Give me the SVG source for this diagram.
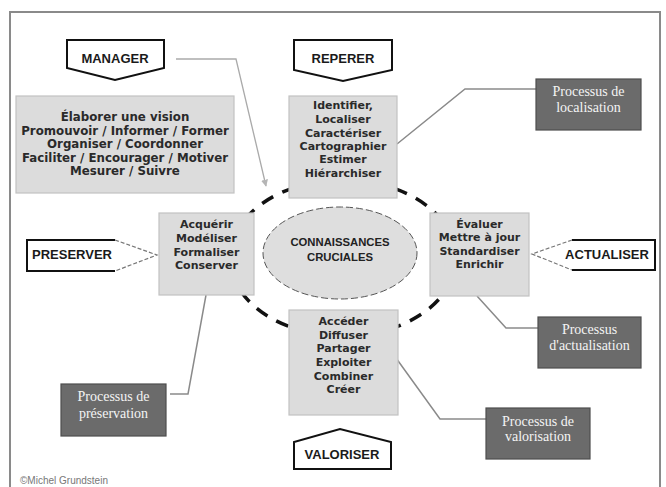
<svg xmlns="http://www.w3.org/2000/svg" width="666" height="487" viewBox="0 0 666 487">
<style>
.bg{fill:#ffffff}
.frame{fill:none;stroke:#8a8a8a;stroke-width:2}
.box{fill:#dcdcdc;stroke:#c2c2c2;stroke-width:1.2}
.btx{font-family:"DejaVu Sans",Verdana,sans-serif;font-weight:bold;font-size:11px;fill:#2a2a2a;text-anchor:middle}
.mtx{font-size:11.8px}
.dark{fill:#6b6b6b;stroke:#4e4e4e;stroke-width:1.2}
.dtx{font-family:"Liberation Serif","Times New Roman",serif;font-size:14px;fill:#f4f4f4;text-anchor:middle}
.lab{fill:#ffffff;stroke:#111;stroke-width:2;stroke-linejoin:miter}
.ltx{font-family:"Liberation Sans",Arial,sans-serif;font-weight:bold;font-size:13px;fill:#1a1a1a;text-anchor:middle}
.conn{fill:none;stroke:#8a8a8a;stroke-width:1.5}
.ring{fill:none;stroke:#111;stroke-width:3.5;stroke-dasharray:13 10}
.core{fill:#dedede;stroke:#555;stroke-width:1;stroke-dasharray:7 3}
.ctx{font-family:"Liberation Sans",Arial,sans-serif;font-weight:bold;font-size:11.3px;fill:#222;text-anchor:middle}
.dash{fill:none;stroke:#777;stroke-width:1.2;stroke-dasharray:4 2}
</style>
<defs>
<marker id="ah" viewBox="0 0 10 10" refX="9" refY="5" markerWidth="7" markerHeight="7" orient="auto" markerUnits="userSpaceOnUse">
<path d="M0,0 L10,5 L0,10 z" fill="#b5b5b5"/>
</marker>
</defs>
<rect class="bg" x="0" y="0" width="666" height="487"/>
<rect class="frame" x="10" y="12" width="650" height="490"/>

<g id="connectors">
<ellipse class="ring" cx="343" cy="258" rx="113" ry="78"/>
<polyline points="176,59 236,59 266,186" fill="none" stroke="#aaaaaa" stroke-width="1.3" marker-end="url(#ah)"/>
<polyline class="conn" points="397,144 465,89 536,89"/>
<polyline class="conn" points="477,296 506,328 538,328"/>
<polyline class="conn" points="396,358 440,419 486,419"/>
<polyline class="conn" points="206,295 188,394 170,394"/>
</g>

<g id="manager-label">
<polygon class="lab" points="67,40 164,40 164,68 115,80 67,68"/>
<text class="ltx" x="115" y="63">MANAGER</text>
</g>
<g id="reperer-label">
<polygon class="lab" points="294,40 392,40 392,70 343,81 294,70"/>
<text class="ltx" x="343" y="63">REPERER</text>
</g>
<g id="valoriser-label">
<polygon class="lab" points="294,469 294,442 340,429 391,442 391,469"/>
<text class="ltx" x="342" y="459">VALORISER</text>
</g>
<g id="preserver-label">
<polygon fill="#ffffff" stroke="none" points="27,240 115,240 157,255 115,271 27,271"/>
<polyline fill="none" stroke="#111" stroke-width="2" points="115,240 27,240 27,271 115,271"/>
<polyline class="dash" points="115,240 157,255 115,271"/>
<text class="ltx" x="72" y="259">PRESERVER</text>
</g>
<g id="actualiser-label">
<polygon fill="#ffffff" stroke="none" points="532,254 572,240 655,240 655,270 572,270"/>
<polyline fill="none" stroke="#111" stroke-width="2" points="572,240 655,240 655,270 572,270"/>
<polyline class="dash" points="572,240 532,254 572,270"/>
<text class="ltx" x="607" y="259">ACTUALISER</text>
</g>

<g id="manager-box">
<rect class="box" x="16" y="96" width="218" height="97"/>
<text class="btx mtx" x="125" y="121">Élaborer une vision</text>
<text class="btx mtx" x="125" y="134.5">Promouvoir / Informer / Former</text>
<text class="btx mtx" x="125" y="148">Organiser / Coordonner</text>
<text class="btx mtx" x="125" y="161.5">Faciliter / Encourager / Motiver</text>
<text class="btx mtx" x="125" y="175">Mesurer / Suivre</text>
</g>

<g id="reperer-box">
<rect class="box" x="289" y="96" width="108" height="102"/>
<text class="btx" x="343" y="109">Identifier,</text>
<text class="btx" x="343" y="123">Localiser</text>
<text class="btx" x="343" y="137">Caractériser</text>
<text class="btx" x="343" y="150">Cartographier</text>
<text class="btx" x="343" y="163">Estimer</text>
<text class="btx" x="343" y="177">Hiérarchiser</text>
</g>

<g id="preserver-box">
<rect class="box" x="159" y="213" width="95" height="82"/>
<text class="btx" x="206.5" y="228">Acquérir</text>
<text class="btx" x="206.5" y="242">Modéliser</text>
<text class="btx" x="206.5" y="256">Formaliser</text>
<text class="btx" x="206.5" y="269">Conserver</text>
</g>

<g id="actualiser-box">
<rect class="box" x="430" y="213" width="99" height="83"/>
<text class="btx" x="479.5" y="228">Évaluer</text>
<text class="btx" x="479.5" y="241">Mettre à jour</text>
<text class="btx" x="479.5" y="255">Standardiser</text>
<text class="btx" x="479.5" y="268">Enrichir</text>
</g>

<g id="valoriser-box">
<rect class="box" x="289" y="310" width="109" height="105"/>
<text class="btx" x="343.5" y="325">Accéder</text>
<text class="btx" x="343.5" y="339">Diffuser</text>
<text class="btx" x="343.5" y="352">Partager</text>
<text class="btx" x="343.5" y="366">Exploiter</text>
<text class="btx" x="343.5" y="380">Combiner</text>
<text class="btx" x="343.5" y="393">Créer</text>
</g>

<g id="core">
<ellipse class="core" cx="340" cy="253" rx="77" ry="46"/>
<text class="ctx" x="340" y="246">CONNAISSANCES</text>
<text class="ctx" x="340" y="261">CRUCIALES</text>
</g>

<g id="proc-localisation">
<rect class="dark" x="536" y="79" width="105" height="51"/>
<text class="dtx" x="588.5" y="96">Processus de</text>
<text class="dtx" x="588.5" y="112">localisation</text>
</g>
<g id="proc-actualisation">
<rect class="dark" x="538" y="317" width="103" height="51"/>
<text class="dtx" x="589.5" y="334">Processus</text>
<text class="dtx" x="589.5" y="350">d'actualisation</text>
</g>
<g id="proc-valorisation">
<rect class="dark" x="486" y="408" width="104" height="51"/>
<text class="dtx" x="538" y="426">Processus de</text>
<text class="dtx" x="538" y="441">valorisation</text>
</g>
<g id="proc-preservation">
<rect class="dark" x="61" y="384" width="105" height="52"/>
<text class="dtx" x="113.5" y="401">Processus de</text>
<text class="dtx" x="113.5" y="418">préservation</text>
</g>

<text x="20" y="484" font-family="Liberation Sans, Arial, sans-serif" font-size="10" fill="#777">©Michel Grundstein</text>
</svg>
